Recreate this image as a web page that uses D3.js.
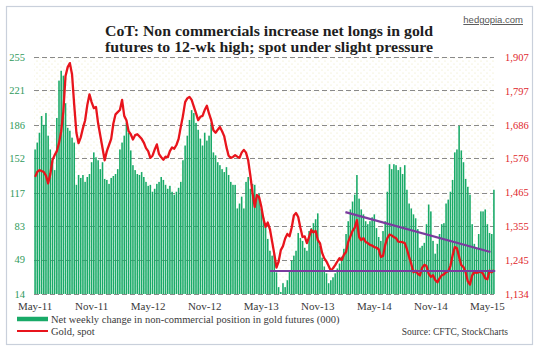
<!DOCTYPE html>
<html><head><meta charset="utf-8">
<script src="https://cdn.jsdelivr.net/npm/d3@7"></script>
<style>
html,body{margin:0;padding:0;background:#fff;}
svg{display:block;}
</style></head>
<body>
<script>
// ---------------- DATA ----------------
const titleLines = ["CoT: Non commercials increase net longs in gold",
                    "futures to 12-wk high; spot under slight pressure"];
const xTickLabels = ["May-11","Nov-11","May-12","Nov-12","May-13","Nov-13","May-14","Nov-14","May-15"];
const leftTicks  = [14,49,83,117,152,186,221,255];
const rightTicks = [1134,1245,1355,1465,1576,1686,1797,1907];

// Net non-commercial position in gold futures (000), weekly
const netLongs = [
161,168,178,195,186,198,175,161,150,140,193,231,241,236,208,183,180,173,168,125,135,132,135,128,133,136,148,
158,153,150,141,148,131,130,126,132,134,136,141,161,168,175,188,178,160,145,140,136,135,
138,133,128,124,125,118,121,126,128,133,130,125,121,124,118,115,118,122,128,150,
165,175,191,201,198,188,181,172,165,178,170,175,188,
158,155,148,145,141,138,143,135,128,125,125,101,106,113,101,128,
133,121,126,125,113,116,101,92,83,70,58,53,55,36,21,16,25,21,28,38,
48,53,58,76,71,68,61,58,78,81,86,90,96,63,51,42,35,
25,28,31,35,40,45,52,60,75,88,100,108,115,135,111,100,95,88,85,88,92,95,
81,72,68,78,88,118,146,141,146,145,140,143,136,145,120,106,101,95,91,80,
61,63,66,85,105,98,68,55,65,75,85,86,
106,110,118,130,158,161,185,160,148,131,123,115,85,65,61,75,98,98,100,85,76,75,120
];
// Gold spot, weekly
const goldSpot = [
1516,1532,1538,1535,1532,1520,1495,1525,1571,1587,1600,1626,1665,1730,1845,1874,1887,1850,1750,1660,
1626,1645,1675,1700,1750,1785,1760,
1740,1744,1690,1650,1610,1570,1600,1620,1640,1690,1720,1727,1734,1767,1715,1701,1665,1655,1638,1652,1655,1648,
1640,1628,1610,1600,1578,1585,1605,1622,1590,1580,1572,1582,1580,1600,1612,1608,1620,1640,1679,1715,
1760,1772,1777,1767,1745,1724,1701,1712,1715,1734,1748,1722,1701,
1668,1660,1670,1679,1665,1648,1613,1585,1578,1581,1587,1582,1578,1595,1604,1595,
1570,1520,1463,1418,1457,1450,1420,1380,1353,1367,1345,1305,1265,1220,1240,1277,1290,1315,1330,1322,
1350,1390,1398,1385,1350,1320,1322,1300,1320,1343,1335,1340,1310,1300,1268,1250,1240,
1225,1210,1218,1228,1240,1251,1245,1262,1271,1304,1322,1340,1350,1375,1320,1310,1316,1304,1300,1294,1292,1287,
1285,1280,1255,1258,1294,1316,1328,1325,1320,1316,1305,1304,1303,1300,1280,1255,1232,1205,1210,1200,
1195,1220,1229,1225,1200,1190,1195,1180,1172,1185,1195,1198,
1205,1208,1225,1260,1287,1283,1255,1228,1222,1205,1175,1165,1195,1205,1203,1205,1207,1200,1185,1182,1210,1205,1212
];
// hand-drawn trend lines (week index, gold price)
const supportLine    = [{w:108, v:1209}, {w:211.6, v:1209}];
const resistanceLine = [{w:142.7, v:1401}, {w:209.4, v:1271}];

const legendLabels = ["Net weekly change in non-commercial position in gold futures (000)", "Gold, spot"];
const sourceText = "Source: CFTC, StockCharts";
const siteText = "hedgopia.com";

// ---------------- CHART ----------------
const W = 540, H = 352;
const m = {l:34, r:495, t:57, b:294};
const N = netLongs.length;
const weeks = d3.range(N);

const svg = d3.select("body").append("svg").attr("width", W).attr("height", H)
  .style("font-family", "'Liberation Serif', 'Times New Roman', serif");

const defs = svg.append("defs");
const pat = defs.append("pattern").attr("id","dots").attr("patternUnits","userSpaceOnUse")
  .attr("width",6).attr("height",6);
pat.append("rect").attr("width",6).attr("height",6).attr("fill","#fff");
pat.append("circle").attr("cx",1).attr("cy",1).attr("r",0.6).attr("fill","#ece5b8");
pat.append("circle").attr("cx",4).attr("cy",4).attr("r",0.6).attr("fill","#ece5b8");

// frame
svg.append("rect").attr("x",6.5).attr("y",6.5).attr("width",526).attr("height",338)
  .attr("fill","#fff").attr("stroke","#c9d0db").attr("stroke-width",1.2);

// plot background
svg.append("rect").attr("x",m.l).attr("y",m.t).attr("width",m.r-m.l).attr("height",m.b-m.t)
  .attr("fill","url(#dots)");

const x = d3.scaleBand().domain(weeks).range([m.l, m.r]).paddingInner(0.28).paddingOuter(0.14);
const xc = d3.scaleLinear().domain([-0.5, N-0.5]).range([m.l, m.r]);
const yL = d3.scaleLinear().domain([leftTicks[0], leftTicks[leftTicks.length-1]]).range([m.b, m.t]);
const yR = d3.scaleLinear().domain([rightTicks[0], rightTicks[rightTicks.length-1]]).range([m.b, m.t]);

// gridlines
svg.append("g").selectAll("line").data(leftTicks).join("line")
  .attr("x1", m.l).attr("x2", m.r-1)
  .attr("y1", d=>Math.round(yL(d))+0.5).attr("y2", d=>Math.round(yL(d))+0.5)
  .attr("stroke","#8a8a8a").attr("stroke-width",1).attr("stroke-dasharray","5,3");

// bars
svg.append("g").selectAll("rect").data(netLongs).join("rect")
  .attr("x", (d,i)=>x(i)).attr("width", x.bandwidth())
  .attr("y", d=>yL(d)).attr("height", d=>m.b - yL(d))
  .attr("fill","#19aa68");

// gold line
svg.append("path").datum(goldSpot)
  .attr("d", d3.line().x((d,i)=>xc(i)).y(d=>yR(d)))
  .attr("fill","none").attr("stroke","#e8141c").attr("stroke-width",2.3)
  .attr("stroke-linejoin","round");

// trend lines
[supportLine, resistanceLine].forEach(seg=>{
  svg.append("path").datum(seg)
    .attr("d", d3.line().x(d=>xc(d.w)).y(d=>yR(d.v)))
    .attr("fill","none").attr("stroke","#7a3c9e").attr("stroke-width",2.2);
});

// axes
const axL = svg.append("g").attr("transform",`translate(${m.l},0)`)
  .call(d3.axisLeft(yL).tickValues(leftTicks).tickSize(0).tickPadding(9));
axL.select(".domain").remove();
axL.selectAll("text").attr("fill","#2f9a5c").style("font-size","10.5px")
  .style("font-family","'Liberation Serif', serif");

const axR = svg.append("g").attr("transform",`translate(${m.r},0)`)
  .call(d3.axisRight(yR).tickValues(rightTicks).tickSize(0).tickPadding(10).tickFormat(d3.format(",")));
axR.select(".domain").remove();
axR.selectAll("text").attr("fill","#e0262b").style("font-size","10.5px")
  .style("font-family","'Liberation Serif', serif");

const tickWeeks = xTickLabels.map((_,k)=>k*26);
const axB = svg.append("g").attr("transform",`translate(0,${m.b})`)
  .call(d3.axisBottom(x).tickValues(tickWeeks).tickSize(0).tickPadding(8)
        .tickFormat((d,k)=>xTickLabels[k]));
axB.select(".domain").remove();
axB.selectAll("text").attr("fill","#3a3a3a").style("font-size","11px")
  .style("font-family","'Liberation Serif', serif");

// title
titleLines.forEach((t,k)=>{
  svg.append("text").attr("x",269).attr("y",36+k*16).attr("text-anchor","middle")
    .attr("textLength",328).attr("lengthAdjust","spacingAndGlyphs")
    .style("font-size","15px").style("font-weight","bold").attr("fill","#1e1e1e").text(t);
});

// site
svg.append("text").attr("x",523).attr("y",23).attr("text-anchor","end")
  .style("font-family","'Liberation Sans', Arial, sans-serif").style("font-size","9.5px")
  .style("text-decoration","underline").attr("fill","#555").text(siteText);

// legend
svg.append("line").attr("x1",17).attr("x2",48).attr("y1",319).attr("y2",319)
  .attr("stroke","#19aa68").attr("stroke-width",4.5);
svg.append("text").attr("x",51).attr("y",323).style("font-size","10.5px").attr("fill","#3a3a3a").text(legendLabels[0]);
svg.append("line").attr("x1",17).attr("x2",48).attr("y1",331).attr("y2",331)
  .attr("stroke","#e8141c").attr("stroke-width",2);
svg.append("text").attr("x",51).attr("y",335).style("font-size","10.5px").attr("fill","#3a3a3a").text(legendLabels[1]);
svg.append("text").attr("x",508).attr("y",335).attr("text-anchor","end")
  .style("font-size","9.5px").attr("fill","#3a3a3a").text(sourceText);
</script>
</body></html>
